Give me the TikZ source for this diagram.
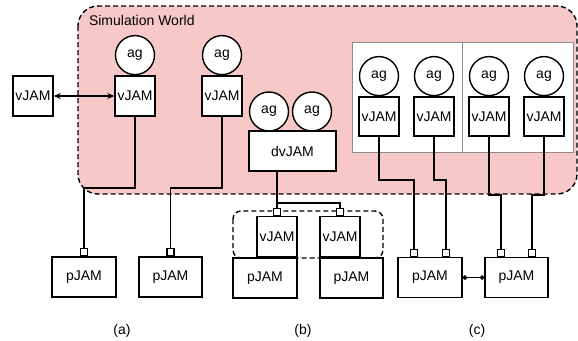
\documentclass[tikz,border=0pt]{standalone}
\usepackage{fontspec}
\setmainfont{Liberation Sans}
\usetikzlibrary{arrows.meta, positioning, calc}
\definecolor{cpink}{HTML}{F6C9C8}
\definecolor{cpanel}{HTML}{8C8C8C}
\tikzset{
  every picture/.style={font=\fontsize{14}{16}\selectfont, line width=1.4pt},
  jam/.style={draw, fill=white, minimum width=#1, minimum height=40pt, inner sep=0pt},
  jam/.default=40pt,
  agent/.style={draw, circle, fill=white, minimum size=39pt, inner sep=0pt},
  port/.style={draw, fill=white, minimum size=7pt, inner sep=0pt, anchor=south, line width=1.1pt},
  world/.style={draw, fill=cpink, dash pattern=on 5pt off 3pt, rounded corners=20pt},
  group/.style={draw, dash pattern=on 5pt off 3pt, rounded corners=8pt},
  twoway/.style={{Stealth[length=7pt, width=6pt]}-{Stealth[length=7pt, width=6pt]}},
  joint/.style={{Circle[length=4.5pt]}-{Circle[length=4.5pt]}},
}

\begin{document}
\begin{tikzpicture}[x=1pt, y=-1pt]
  \useasboundingbox (0,0) rectangle (578,340);
  \draw[world] (78,6) rectangle (577,194);
  \node[anchor=west] (wtitle) at (85,20) {Simulation World};
  % (a)
  \node[jam] (vext) at (33,96) {vJAM};
  \node[jam] (va1) at (135,96) {vJAM};
  \node[agent, above=0pt of va1] (aga1) {ag};
  \node[jam] (va2) at (222,96) {vJAM};
  \node[agent, above=0pt of va2] (aga2) {ag};
  \node[jam=64pt] (pa1) at (84,277) {pJAM};
  \node[jam=63pt] (pa2) at (170.5,277) {pJAM};
  \node[port] (pa1p) at (pa1.north) {};
  \node[port] (pa2p) at (pa2.north) {};
  \coordinate (ya) at (0,188);
  \draw[twoway] (vext) -- (va1);
  \draw (va1.south) -- (va1.south |- ya) -| (pa1p.north);
  \draw (va2.south) -- (va2.south |- ya) -| (pa2p.north);
  \node (capa) at (122,331) {(a)};
  % (b)
  \node[jam=87pt] (dv) at (292.5,151) {dvJAM};
  \node[agent] (agb1) at (269,111.5) {ag};
  \node[agent] (agb2) at (312,111.5) {ag};
  \draw[group] (233,211) rectangle (383,258);
  \node[jam=64pt] (pb1) at (265,278) {pJAM};
  \node[jam=63pt] (pb2) at (351.5,278) {pJAM};
  \node[jam, anchor=south east] (vb1) at (pb1.north east) {vJAM};
  \node[jam, anchor=south west] (vb2) at (pb2.north west) {vJAM};
  \node[port] (vb1p) at (vb1.north) {};
  \node[port] (vb2p) at (vb2.north) {};
  \coordinate (yb) at (0,203);
  \draw (dv.south -| vb1p) -- (vb1p.north);
  \draw (vb1p |- yb) -| (vb2p.north);
  \node (capb) at (303,331) {(b)};
  % (c)
  \draw[cpanel, fill=white, line width=0.8pt] (352,42) rectangle (573,152);
  \draw[cpanel, line width=0.8pt] (462,42) -- (462,152);
  \foreach \i/\x in {1/379, 2/434, 3/489, 4/544} {
    \node[jam, minimum height=39pt] (vc\i) at (\x,116.5) {vJAM};
    \node[agent, above=0pt of vc\i] (agc\i) {ag};
  }
  \node[jam=64pt] (pc1) at (430,277.5) {pJAM};
  \node[jam=63pt] (pc2) at (516.5,277.5) {pJAM};
  \node[port] (pc1a) at ([xshift=-16pt]pc1.north) {};
  \node[port] (pc1b) at ([xshift=16pt]pc1.north) {};
  \node[port] (pc2a) at ([xshift=-15.5pt]pc2.north) {};
  \node[port] (pc2b) at ([xshift=15.5pt]pc2.north) {};
  \coordinate (yc1) at (0,180);
  \coordinate (yc2) at (0,195);
  \draw (vc1.south) -- (vc1.south |- yc1) -| (pc1a.north);
  \draw (vc2.south) -- (vc2.south |- yc1) -| (pc1b.north);
  \draw (vc3.south) -- (vc3.south |- yc2) -| (pc2a.north);
  \draw (vc4.south) -- (vc4.south |- yc2) -| (pc2b.north);
  \draw[joint] (pc1) -- (pc2);
  \node (capc) at (477,331) {(c)};
\end{tikzpicture}
\end{document}
